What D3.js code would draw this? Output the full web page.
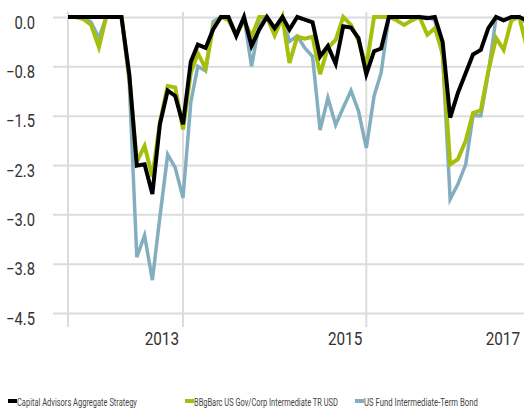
<!DOCTYPE html>
<html>
<head>
<meta charset="utf-8">
<script src="https://cdn.jsdelivr.net/npm/d3@7"></script>
<style>
  body { margin: 0; background: #fff; }
  svg text { font-family: "Roboto", "DejaVu Sans", sans-serif; }
</style>
</head>
<body>
<div id="chart"></div>
<script>
// monthly drawdown, first point is Oct 2011
const startMonth = new Date(2011, 9, 1);

const seriesNames = [
  "Capital Advisors Aggregate Strategy",
  "BBgBarc US Gov/Corp Intermediate TR USD",
  "US Fund Intermediate-Term Bond"
];

const strategy = [
  0, 0, 0, 0, 0, 0, 0, 0, -0.87, -2.26,
  -2.24, -2.69, -1.63, -1.12, -1.2, -1.63, -0.68, -0.42, -0.47, -0.19,
  0, 0, -0.29, 0, -0.44, -0.19, 0, -0.17, 0, -0.19,
  0, -0.04, -0.08, -0.6, -0.44, -0.71, -0.14, -0.16, -0.32, -0.87,
  -0.52, -0.48, 0, 0, 0, 0, 0, -0.02, 0, -0.38,
  -1.53, -1.15, -0.85, -0.57, -0.5, -0.17, 0, -0.05, 0, 0,
  -0.05
];

const benchmark = [
  0, 0, -0.03, -0.12, -0.46, 0, 0, 0, -0.9, -2.2,
  -1.96, -2.43, -1.6, -1.05, -1.07, -1.71, -0.85, -0.55, -0.78, -0.15,
  0, -0.05, -0.27, -0.05, -0.3, 0, 0, -0.28, 0, -0.7,
  -0.3, -0.33, -0.3, -0.87, -0.47, -0.35, 0, -0.12, -0.36, -0.75,
  0, 0, 0, -0.05, -0.12, -0.05, 0, -0.27, -0.17, -0.55,
  -2.24, -2.16, -1.88, -1.46, -1.42, -0.82, -0.32, -0.5, -0.05, 0,
  -0.45
];

const category = [
  0, 0, 0, -0.08, -0.32, 0, 0, 0, -1.0, -3.65,
  -3.32, -4.0, -3.04, -2.09, -2.29, -2.75, -1.3, -0.75, -0.82, -0.07,
  0, 0, -0.25, 0, -0.75, -0.1, 0, -0.2, 0, -0.37,
  -0.29, -0.47, -0.6, -1.72, -1.23, -1.64, -1.38, -1.12, -1.43, -1.99,
  -1.2, -0.85, 0, 0, 0, 0, 0, 0, -0.05, -0.6,
  -2.77, -2.54, -2.24, -1.5, -1.5, -0.85, 0, -0.05, 0, 0,
  -0.1
];

const yTicks = [0, -0.75, -1.5, -2.25, -3.0, -3.75, -4.5];
const xTickYears = [2013, 2015, 2017];
const colors = ["#000000", "#a6bf0c", "#83aec0"];

const width = 524, height = 409;
const margin = { top: 17, right: 0, bottom: 96, left: 68 };

const months = strategy.map((d, i) => d3.timeMonth.offset(startMonth, i));

const svg = d3.select("#chart").append("svg")
  .attr("width", width)
  .attr("height", height);

const x = d3.scaleTime()
  .domain([months[0], months[15]])
  .range([margin.left, margin.left + 115]);

const y = d3.scaleLinear()
  .domain([0, -4.5])
  .range([margin.top, height - margin.bottom]);

// squeeze text horizontally around its x (original uses a condensed face)
function condense(sel, k) {
  sel.each(function() {
    const ax = +d3.select(this).attr("x") || 0;
    d3.select(this).attr("transform", `translate(${ax},0) scale(${k},1) translate(${-ax},0)`);
  });
}

// horizontal grid + y labels
const yAxis = svg.append("g")
  .attr("transform", "translate(53,0)")
  .call(d3.axisRight(y).tickValues(yTicks).tickSize(width - 53).tickFormat(d3.format(".1f")));
yAxis.select(".domain").remove();
yAxis.selectAll(".tick line").attr("stroke", "#dcdcdc").attr("stroke-width", 2);
yAxis.selectAll(".tick text")
  .attr("x", -18)
  .attr("dy", "0.62em")
  .attr("text-anchor", "end")
  .attr("fill", "#333")
  .style("font-size", "18px")
  .call(condense, 0.82);

// vertical grid + x labels
const xTickDates = [months[0]].concat(xTickYears.map(yr => new Date(yr, 0, 1)));
const gx = svg.append("g");
gx.selectAll("line")
  .data(xTickDates)
  .join("line")
  .attr("x1", d => x(d)).attr("x2", d => x(d))
  .attr("y1", 12).attr("y2", 327)
  .attr("stroke", "#dcdcdc")
  .attr("stroke-width", 2);
gx.selectAll("text")
  .data(xTickYears)
  .join("text")
  .attr("x", d => Math.min(x(new Date(d, 0, 1)) - 4, width - 4))
  .attr("y", 345)
  .attr("text-anchor", "end")
  .attr("fill", "#333")
  .style("font-size", "18px")
  .text(d => d)
  .call(condense, 0.85);

// lines, category behind benchmark behind strategy
const line = d3.line()
  .x((d, i) => x(months[i]))
  .y(d => y(d));

const allSeries = [strategy, benchmark, category];
const widths = [4, 4, 3.5];
[2, 1, 0].forEach(k => {
  svg.append("path")
    .attr("d", line(allSeries[k]))
    .attr("fill", "none")
    .attr("stroke", colors[k])
    .attr("stroke-width", widths[k]);
});

// legend
const legendX = [8, 185, 355];
const legendW = [120, 144, 114];
const legend = svg.append("g").selectAll("g")
  .data(seriesNames)
  .join("g")
  .attr("transform", (d, i) => `translate(${legendX[i]},402)`);
legend.append("rect")
  .attr("x", 0).attr("y", -3)
  .attr("width", 9).attr("height", 4)
  .attr("fill", (d, i) => colors[i]);
legend.append("text")
  .attr("fill", "#444")
  .style("font-size", "10px")
  .text(d => d)
  .each(function(d, i) {
    const k = legendW[i] / this.getComputedTextLength();
    d3.select(this).attr("transform", `translate(9,3.5) scale(${k},1)`);
  });
</script>
</body>
</html>
